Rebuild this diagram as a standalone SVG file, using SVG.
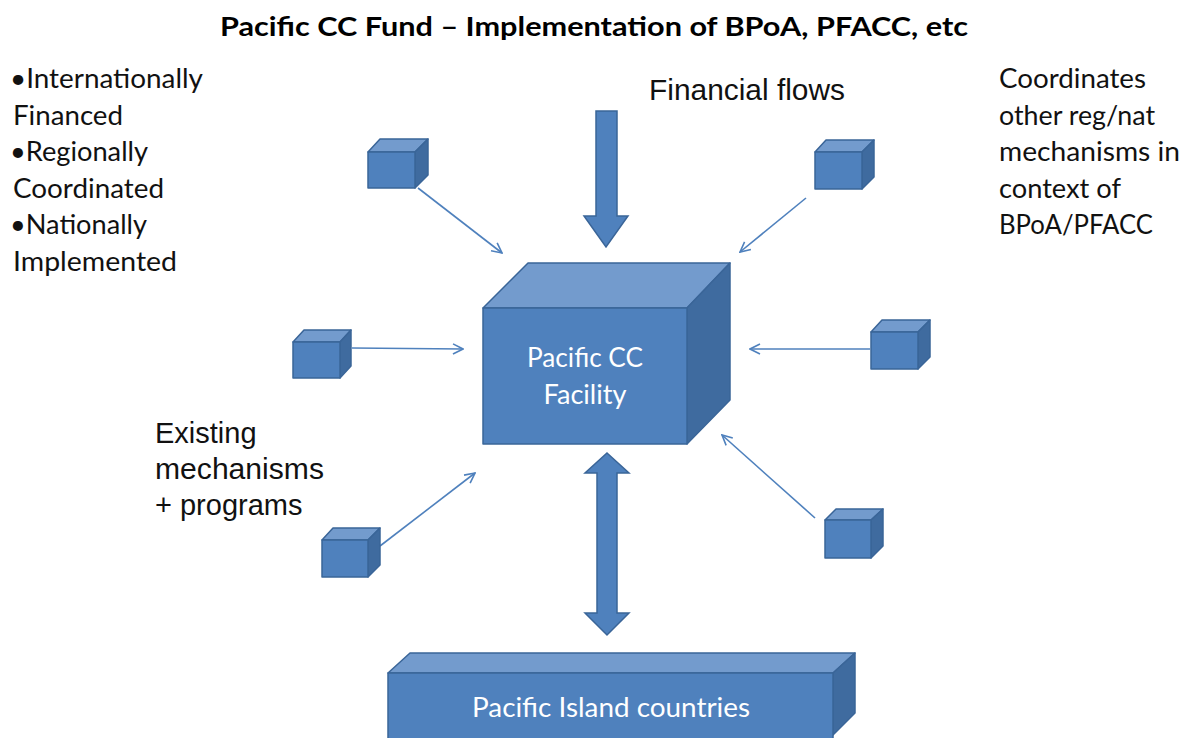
<svg xmlns="http://www.w3.org/2000/svg" width="1191" height="738" viewBox="0 0 1191 738">
<defs>
<style>
.front{fill:#4F81BD;stroke:#3A6598;stroke-width:1.5;stroke-linejoin:round}
.top{fill:#739BCD;stroke:#3A6598;stroke-width:1.5;stroke-linejoin:round}
.side{fill:#3F6B9F;stroke:#3A6598;stroke-width:1.5;stroke-linejoin:round}
.big{fill:#4F81BD;stroke:#3A6598;stroke-width:1.5;stroke-linejoin:miter}
.con{stroke:#4F81BD;stroke-width:1.6;fill:none;marker-end:url(#ah)}
.cal{font-family:Lato,"Open Sans",sans-serif;font-size:26px;fill:#111}
.ari{font-family:"Liberation Sans",Arial,sans-serif;font-size:29px;fill:#111}
.lbl{font-family:Lato,"Open Sans",sans-serif;font-size:26px;fill:#fff;text-anchor:middle}
</style>
<marker id="ah" viewBox="0 0 12 12" refX="11" refY="6" markerWidth="12" markerHeight="12" markerUnits="userSpaceOnUse" orient="auto">
<path d="M1,1 L11,6 L1,11" fill="none" stroke="#4F81BD" stroke-width="1.6"/>
</marker>
</defs>
<rect width="1191" height="738" fill="#fff"/>

<text x="220" y="36" textLength="748" lengthAdjust="spacingAndGlyphs" style="font-family:Lato,'Open Sans',sans-serif;font-size:27px;font-weight:bold;fill:#000">Pacific CC Fund – Implementation of BPoA, PFACC, etc</text>

<g id="left-text" class="cal">
<text x="10" y="88" textLength="193" lengthAdjust="spacingAndGlyphs">•Internationally</text>
<text x="13" y="125" textLength="110" lengthAdjust="spacingAndGlyphs">Financed</text>
<text x="10" y="161" textLength="138" lengthAdjust="spacingAndGlyphs">•Regionally</text>
<text x="13" y="198" textLength="151" lengthAdjust="spacingAndGlyphs">Coordinated</text>
<text x="10" y="234" textLength="137" lengthAdjust="spacingAndGlyphs">•Nationally</text>
<text x="13" y="271" textLength="164" lengthAdjust="spacingAndGlyphs">Implemented</text>
</g>
<g id="right-text" class="cal">
<text x="999" y="88" textLength="147" lengthAdjust="spacingAndGlyphs">Coordinates</text>
<text x="999" y="125" textLength="156" lengthAdjust="spacingAndGlyphs">other reg/nat</text>
<text x="999" y="161" textLength="181" lengthAdjust="spacingAndGlyphs">mechanisms in</text>
<text x="999" y="198" textLength="122" lengthAdjust="spacingAndGlyphs">context of</text>
<text x="999" y="234" textLength="154" lengthAdjust="spacingAndGlyphs">BPoA/PFACC</text>
</g>
<g id="financial-flows-label" class="ari">
<text x="649" y="100" textLength="196" lengthAdjust="spacingAndGlyphs">Financial flows</text>
</g>
<g id="existing-label" class="ari">
<text x="155" y="443">Existing</text>
<text x="155" y="479" textLength="169" lengthAdjust="spacingAndGlyphs">mechanisms</text>
<text x="155" y="515">+ programs</text>
</g>

<g id="connectors">
<path class="con" d="M418,188 L502,253"/>
<path class="con" d="M806,198 L740,252"/>
<path class="con" d="M352,348 L463,349"/>
<path class="con" d="M870,349 L750,349"/>
<path class="con" d="M380,546 L475,473"/>
<path class="con" d="M815,518 L722,435"/>
<path id="financial-flow-arrow" class="big" d="M596,111 L617,111 L617,216 L628,216 L606,247 L584,216 L596,216 Z"/>
<path id="two-way-arrow" class="big" d="M607,453 L629,473 L617,473 L617,613 L629,613 L607,635 L585,613 L597,613 L597,473 L585,473 Z"/>
</g>

<g id="facility">
<path class="top" d="M483,308 L528,263 L730,263 L687,308 Z"/>
<path class="side" d="M687,308 L730,263 L730,400 L687,444 Z"/>
<rect class="front" x="483" y="308" width="204" height="136"/>
<text class="lbl" x="585" y="367" textLength="116" lengthAdjust="spacingAndGlyphs">Pacific CC</text>
<text class="lbl" x="585" y="404" textLength="83" lengthAdjust="spacingAndGlyphs">Facility</text>
</g>

<g id="island-countries">
<path class="top" d="M388,673 L410,653 L855,653 L833,673 Z"/>
<path class="side" d="M833,673 L855,653 L855,713 L833,735 Z"/>
<rect class="front" x="388" y="673" width="445" height="70"/>
<text class="lbl" x="611" y="717" textLength="278" lengthAdjust="spacingAndGlyphs">Pacific Island countries</text>
</g>

<g id="cube-top-left">
<path class="top" d="M368,152 L380,139 L428,139 L415,152 Z"/>
<path class="side" d="M415,152 L428,139 L428,175 L415,188 Z"/>
<rect class="front" x="368" y="152" width="47" height="36"/>
</g>
<g id="cube-top-right">
<path class="top" d="M815,152 L826,140 L874,140 L862,152 Z"/>
<path class="side" d="M862,152 L874,140 L874,177 L862,189 Z"/>
<rect class="front" x="815" y="152" width="47" height="37"/>
</g>
<g id="cube-mid-left">
<path class="top" d="M293,342 L304,330 L351,330 L340,342 Z"/>
<path class="side" d="M340,342 L351,330 L351,366 L340,378 Z"/>
<rect class="front" x="293" y="342" width="47" height="36"/>
</g>
<g id="cube-mid-right">
<path class="top" d="M871,332 L882,320 L930,320 L918,332 Z"/>
<path class="side" d="M918,332 L930,320 L930,357 L918,369 Z"/>
<rect class="front" x="871" y="332" width="47" height="37"/>
</g>
<g id="cube-bottom-left">
<path class="top" d="M322,540 L333,528 L380,528 L368,540 Z"/>
<path class="side" d="M368,540 L380,528 L380,565 L368,577 Z"/>
<rect class="front" x="322" y="540" width="46" height="37"/>
</g>
<g id="cube-bottom-right">
<path class="top" d="M825,520 L836,509 L883,509 L871,520 Z"/>
<path class="side" d="M871,520 L883,509 L883,546 L871,558 Z"/>
<rect class="front" x="825" y="520" width="46" height="38"/>
</g>
</svg>
